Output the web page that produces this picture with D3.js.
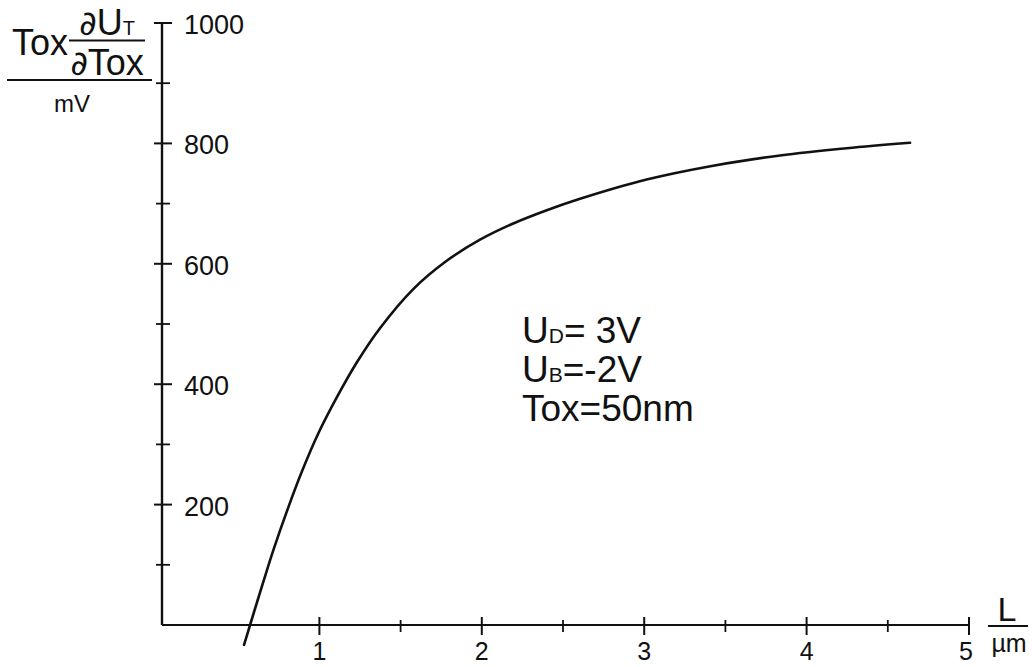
<!DOCTYPE html>
<html>
<head>
<meta charset="utf-8">
<script src="https://cdn.jsdelivr.net/npm/d3@7"></script>
<style>
  body { margin: 0; background: #fff; }
  text { font-family: "Liberation Sans", Arial, sans-serif; fill: #111; }
  .partial { font-family: "DejaVu Sans", sans-serif; }
</style>
</head>
<body>
<svg id="chart" width="1032" height="667"></svg>
<script>
// Channel length L (µm) and Tox·∂U_T/∂Tox (mV)
const lengthUm = [0.536, 0.573, 0.655, 0.716, 0.808, 0.891, 0.993, 1.107, 1.230, 1.373,
                  1.578, 1.784, 1.989, 2.194, 2.400, 2.605, 3.015, 3.425, 3.836, 4.247, 4.637];
const sensitivityMv = [-33, 0, 72, 124, 195, 254, 318, 378, 436, 493,
                       558, 605, 640, 667, 689, 708, 740, 763, 780, 792, 801];

const xMajorTicks = [1, 2, 3, 4, 5];
const xMinorTicks = [1.5, 2.5, 3.5, 4.5];
const yMajorTicks = [200, 400, 600, 800, 1000];
const yMinorTicks = [100, 300, 500, 700, 900];

const conditions = [
  { main: "U", sub: "D", rest: "= 3V" },
  { main: "U", sub: "B", rest: "=-2V" },
  { main: "Tox=50nm", sub: "", rest: "" }
];

const svg = d3.select("#chart");
const ink = "#111";

const x = d3.scaleLinear().domain([0, 5]).range([157, 969]);
const y = d3.scaleLinear().domain([0, 1000]).range([625, 23]);
const axisX = 162;

// axes
svg.append("line").attr("x1", axisX).attr("x2", x(5)).attr("y1", y(0)).attr("y2", y(0))
  .attr("stroke", ink).attr("stroke-width", 2.2);
svg.append("line").attr("x1", axisX).attr("x2", axisX).attr("y1", y(0)).attr("y2", y(1000))
  .attr("stroke", ink).attr("stroke-width", 2.4);

// y ticks (crossing the axis)
svg.selectAll(".ymaj").data(yMajorTicks).join("line")
  .attr("x1", axisX - 8).attr("x2", axisX + 10)
  .attr("y1", d => y(d)).attr("y2", d => y(d))
  .attr("stroke", ink).attr("stroke-width", 2);
svg.selectAll(".ymin").data(yMinorTicks).join("line")
  .attr("x1", axisX - 6).attr("x2", axisX + 8)
  .attr("y1", d => y(d)).attr("y2", d => y(d))
  .attr("stroke", ink).attr("stroke-width", 1.8);
svg.selectAll(".ylab").data(yMajorTicks).join("text")
  .attr("x", axisX + 22).attr("y", d => y(d) + 11)
  .attr("font-size", 27).text(d => d);

// x ticks
svg.selectAll(".xmaj").data(xMajorTicks).join("line")
  .attr("x1", d => x(d)).attr("x2", d => x(d))
  .attr("y1", y(0) - 8).attr("y2", y(0) + 10)
  .attr("stroke", ink).attr("stroke-width", 2);
svg.selectAll(".xmin").data(xMinorTicks).join("line")
  .attr("x1", d => x(d)).attr("x2", d => x(d))
  .attr("y1", y(0) - 5).attr("y2", y(0) + 7)
  .attr("stroke", ink).attr("stroke-width", 1.8);
svg.selectAll(".xlab").data(xMajorTicks).join("text")
  .attr("x", d => d === 5 ? x(d) - 3 : x(d)).attr("y", 660)
  .attr("text-anchor", "middle").attr("font-size", 25).text(d => d);

// x axis unit: L / µm
svg.append("text").attr("x", 1007).attr("y", 621).attr("text-anchor", "middle")
  .attr("font-size", 34).text("L");
svg.append("line").attr("x1", 988).attr("x2", 1028).attr("y1", 626).attr("y2", 626)
  .attr("stroke", ink).attr("stroke-width", 2);
svg.append("text").attr("x", 1009).attr("y", 652).attr("text-anchor", "middle")
  .attr("font-size", 25).text("µm");

// y axis quantity: Tox · ∂U_T / ∂Tox  over  mV
svg.append("text").attr("x", 12).attr("y", 55).attr("font-size", 36).text("Tox");
const num = svg.append("text").attr("x", 107).attr("y", 35).attr("text-anchor", "middle")
  .attr("font-size", 36);
num.append("tspan").attr("class", "partial").attr("font-size", 34).text("∂");
num.append("tspan").text("U");
num.append("tspan").attr("font-size", 20).text("T");
svg.append("line").attr("x1", 69).attr("x2", 145).attr("y1", 40.5).attr("y2", 40.5)
  .attr("stroke", ink).attr("stroke-width", 2.2);
const den = svg.append("text").attr("x", 107).attr("y", 75).attr("text-anchor", "middle")
  .attr("font-size", 36);
den.append("tspan").attr("class", "partial").attr("font-size", 34).text("∂");
den.append("tspan").text("Tox");
svg.append("line").attr("x1", 7).attr("x2", 152).attr("y1", 80).attr("y2", 80)
  .attr("stroke", ink).attr("stroke-width", 2.2);
svg.append("text").attr("x", 72).attr("y", 112).attr("text-anchor", "middle")
  .attr("font-size", 24).text("mV");

// operating conditions
conditions.forEach((c, i) => {
  const t = svg.append("text").attr("x", 522).attr("y", 343 + i * 39).attr("font-size", 37);
  t.append("tspan").text(c.main);
  if (c.sub) t.append("tspan").attr("font-size", 21).text(c.sub);
  if (c.rest) t.append("tspan").text(c.rest);
});

// curve
const pts = lengthUm.map((l, i) => [l, sensitivityMv[i]]);
const line = d3.line().x(d => x(d[0])).y(d => y(d[1])).curve(d3.curveCatmullRom.alpha(0.5));
svg.append("path").datum(pts).attr("d", line)
  .attr("fill", "none").attr("stroke", ink).attr("stroke-width", 2.6)
  .attr("stroke-linecap", "round");
</script>
</body>
</html>
